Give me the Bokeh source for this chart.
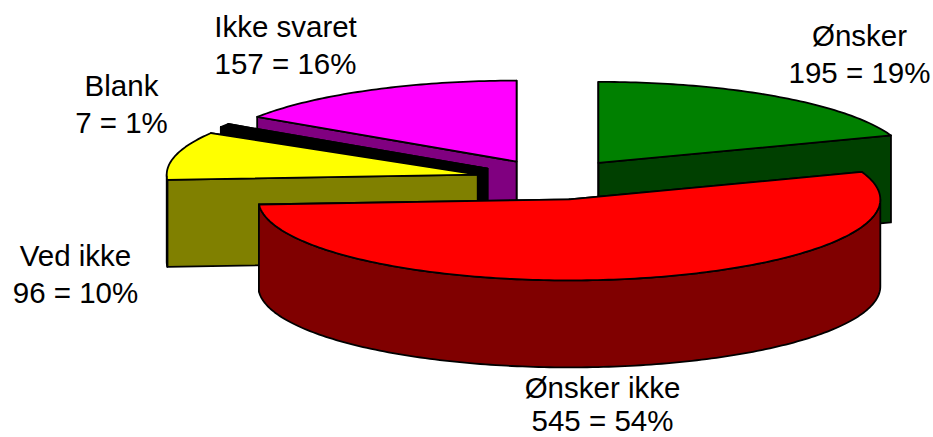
import math
from bokeh.plotting import figure
from bokeh.embed import file_html
from bokeh.resources import INLINE
from bokeh.core.properties import value

# Data
categories = ["Ønsker", "Ønsker ikke", "Ved ikke", "Blank", "Ikke svaret"]
counts = [195, 545, 96, 7, 157]
percents = [19, 54, 10, 1, 16]
top_colors = ["#008000", "#FF0000", "#FFFF00", "#000000", "#FF00FF"]
side_colors = ["#004000", "#800000", "#808000", "#000000", "#800080"]

# Label placement (page pixels)
label_x = [859, 602, 75, 121, 285]
label_y1 = [35, 387, 255, 85, 26]
label_y2 = [72, 420, 292, 122, 63]

# Pie geometry (page pixels)
CX, CY = 553.0, 179.0
RX, RY = 311.0, 81.0
DEPTH = 87.0
EXPLODE = 78.0
draw_order = [4, 0, 3, 2, 1]

W, H = 933, 437
p = figure(width=W, height=H, x_range=(0, W), y_range=(H, 0),
           output_backend="svg", toolbar_location=None,
           min_border=0, outline_line_color=None,
           styles={"position": "absolute", "left": "0", "top": "0"})
p.axis.visible = False
p.grid.visible = False

total = sum(counts)
starts, a = [], 0.0
for c in counts:
    starts.append(a)
    a += c / total * 360.0


def pt(ax, ay, deg):
    r = math.radians(deg)
    return ax + RX * math.sin(r), ay - RY * math.cos(r)


def arc(ax, ay, d0, d1):
    n = max(2, int(abs(d1 - d0)) + 2)
    return [pt(ax, ay, d0 + (d1 - d0) * i / (n - 1)) for i in range(n)]


for i in draw_order:
    s = starts[i]
    e = s + counts[i] / total * 360.0
    mid = math.radians((s + e) / 2)
    ax = CX + EXPLODE * math.sin(mid)
    ay = CY - EXPLODE * RY / RX * math.cos(mid)

    faces = []
    for d in (e, s):  # the two cut faces
        q = pt(ax, ay, d)
        faces.append([(ax, ay), q, (q[0], q[1] + DEPTH), (ax, ay + DEPTH)])
    w0, w1 = max(s, 90.0), min(e, 270.0)
    if w1 > w0:  # outer wall, front half only
        rim = arc(ax, ay, w0, w1)
        faces.append(rim + [(x, y + DEPTH) for x, y in reversed(rim)])
    for f in faces:
        p.patch([q[0] for q in f], [q[1] for q in f], fill_color=side_colors[i],
                line_color="black", line_width=1.8, line_join="round")

    top = [(ax, ay)] + arc(ax, ay, s, e)
    p.patch([q[0] for q in top], [q[1] for q in top], fill_color=top_colors[i],
            line_color="black", line_width=1.8, line_join="round")

line1 = categories
line2 = [f"{c} = {q}%" for c, q in zip(counts, percents)]
for ys, txt in ((label_y1, line1), (label_y2, line2)):
    p.text(x=label_x, y=ys, text=txt, text_font=value("Liberation Sans"),
           text_font_size="29.5px", text_color="black",
           text_align="center", text_baseline="middle")

open("out.html", "w").write(file_html(p, INLINE))
